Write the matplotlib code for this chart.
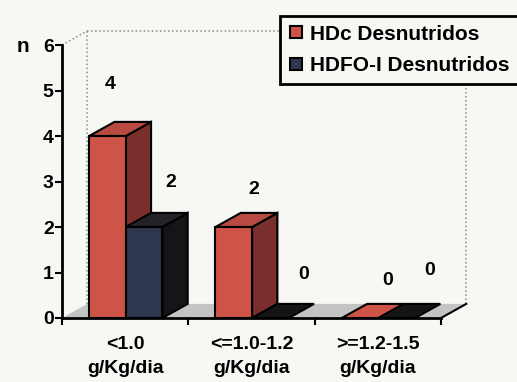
import numpy as np
import matplotlib.pyplot as plt
from matplotlib.patches import Polygon
from matplotlib.lines import Line2D

plt.rcParams.update({
    "font.family": ["Liberation Sans", "DejaVu Sans"],
    "font.weight": "bold",
})

# data
categories = ["<1.0\ng/Kg/dia", "<=1.0-1.2\ng/Kg/dia", ">=1.2-1.5\ng/Kg/dia"]
hdc = [4, 2, 0]
hdfo = [2, 0, 0]
series_names = ["HDc Desnutridos", "HDFO-I Desnutridos"]
y_ticks = [0, 1, 2, 3, 4, 5, 6]

# colours: front, side, top
RED = ("#cf5448", "#7a2f2c", "#b84a42")
NAVY = ("#2e3650", "#151518", "#222228")
BG = "#f7f7f4"

# oblique depth (data units) and bar geometry
DX, DY = 0.20, 0.31
BAR_W = 0.29
OFFS = [0.215, 0.505]

# label nudges in points (x, y above bar top)
NUDGE = {
    0: [(2, 37), (14, 27), (20, 27)],
    1: [(19, 32), (24, 31), (24, 34)],
}

fig = plt.figure(figsize=(5.17, 3.82), dpi=100, facecolor=BG)
ax = fig.add_axes([62 / 517, 64 / 382, 379 / 517, 273 / 382])
ax.set_facecolor("none")
ax.set_xlim(0, 3)
ax.set_ylim(0, 6)

# back wall outline (dotted) and floor
wall_kw = dict(color="#8c8c8c", lw=1.1, ls=":", clip_on=False, zorder=1)
ax.plot([0, DX], [6, 6 + DY], **wall_kw)
ax.plot([DX, 3 + DX], [6 + DY, 6 + DY], **wall_kw)
ax.plot([DX, DX], [DY, 6 + DY], **wall_kw)
ax.plot([3 + DX, 3 + DX], [DY, 6 + DY], **wall_kw)

floor = Polygon([(0, 0), (3, 0), (3 + DX, DY), (DX, DY)], closed=True,
                facecolor="#c4c4c4", edgecolor="none", clip_on=False, zorder=2)
ax.add_patch(floor)
ax.plot([3, 3 + DX], [0, DY], color="black", lw=1.5, clip_on=False, zorder=3)


def draw_bar(x0, v, cols):
    x1 = x0 + BAR_W
    kw = dict(closed=True, edgecolor="black", lw=1.5, clip_on=False,
              joinstyle="miter", zorder=4)
    if v == 0:
        ax.add_patch(Polygon([(x0, 0), (x1, 0), (x1 + DX, DY), (x0 + DX, DY)],
                             facecolor=cols[0] if cols is RED else "#151518", **kw))
        return
    ax.add_patch(Polygon([(x1, 0), (x1 + DX, DY), (x1 + DX, v + DY), (x1, v)],
                         facecolor=cols[1], **kw))
    ax.add_patch(Polygon([(x0, v), (x1, v), (x1 + DX, v + DY), (x0 + DX, v + DY)],
                         facecolor=cols[2], **kw))
    ax.add_patch(Polygon([(x0, 0), (x1, 0), (x1, v), (x0, v)],
                         facecolor=cols[0], **kw))


for i in range(len(categories)):
    for s, (vals, cols) in enumerate([(hdc, RED), (hdfo, NAVY)]):
        x0 = i + OFFS[s]
        draw_bar(x0, vals[i], cols)
        nx, ny = NUDGE[s][i]
        ax.annotate(str(vals[i]), xy=(x0 + BAR_W / 2, vals[i]),
                    xytext=(nx, ny), textcoords="offset points",
                    ha="center", va="center", fontsize=14, fontweight="bold",
                    annotation_clip=False, zorder=6)

# axes styling
for side in ["top", "right"]:
    ax.spines[side].set_visible(False)
ax.spines["left"].set_linewidth(2)
ax.spines["bottom"].set_linewidth(2)
ax.spines["left"].set_zorder(5)
ax.spines["bottom"].set_zorder(5)

ax.set_yticks(y_ticks)
ax.set_yticklabels([str(t) for t in y_ticks], fontsize=14, fontweight="bold")
ax.tick_params(axis="y", direction="out", length=5, width=1.5, pad=1)

ax.set_xticks([0, 1, 2, 3])
ax.set_xticklabels([])
ax.tick_params(axis="x", which="major", direction="out", length=5, width=1.5)
ax.set_xticks([0.5, 1.5, 2.5], minor=True)
ax.set_xticklabels(categories, minor=True, fontsize=14, fontweight="bold",
                   linespacing=1.55)
ax.tick_params(axis="x", which="minor", length=0, pad=13)

fig.text(17 / 517, 1 - 47 / 382, "n", fontsize=15, fontweight="bold",
         ha="left", va="center")

# legend with small square swatches
handles = [Line2D([], [], ls="", marker="s", markersize=9,
                  markerfacecolor=RED[0], markeredgecolor="black", markeredgewidth=1.5),
           Line2D([], [], ls="", marker="s", markersize=9,
                  markerfacecolor=NAVY[0], markeredgecolor="black", markeredgewidth=1.5)]
leg = ax.legend(handles, series_names, loc="upper left",
                bbox_to_anchor=(280 / 517, 1 - 16 / 382),
                bbox_transform=fig.transFigure, borderaxespad=0,
                prop={"weight": "bold", "size": 15},
                handlelength=0.7, handletextpad=0.3,
                borderpad=0.42, labelspacing=0.6, fancybox=False,
                framealpha=1, facecolor=BG, edgecolor="black")
leg.get_frame().set_linewidth(2)
leg.set_zorder(10)

fig.savefig("out.png", dpi=100, facecolor=BG)
